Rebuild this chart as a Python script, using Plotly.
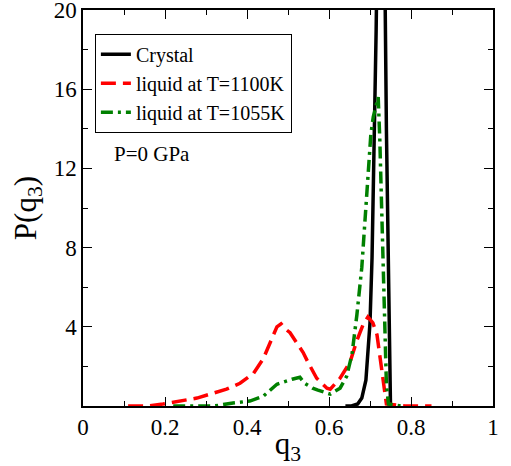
import plotly.graph_objects as go

# Crystal
q_crystal = [0.64, 0.655, 0.67, 0.68, 0.69, 0.70, 0.705, 0.71, 0.715, 0.72, 0.73, 0.74, 0.75, 0.76]
p_crystal = [0.0, 0.0, 0.1, 0.4, 1.3, 4.2, 7.5, 12.5, 19.0, 27.0, 35.0, 14.0, 0.0, 0.0]

# liquid at T=1100K
q_1100 = [0.11, 0.158, 0.195, 0.237, 0.278, 0.31, 0.35, 0.383, 0.416, 0.44, 0.46, 0.473, 0.483,
          0.493, 0.505, 0.513, 0.537, 0.549, 0.57, 0.595, 0.603, 0.627, 0.651, 0.668, 0.683,
          0.695, 0.707, 0.717, 0.725, 0.732, 0.74, 0.785, 0.85]
p_1100 = [0.0, 0.0, 0.1, 0.25, 0.4, 0.6, 0.85, 1.15, 1.65, 2.4, 3.4, 4.0, 4.15,
          3.9, 3.7, 3.45, 2.7, 2.2, 1.4, 0.9, 0.85, 1.4, 2.2, 3.3, 4.1,
          4.5, 4.2, 3.6, 2.3, 1.1, 0.1, 0.0, 0.0]

# liquid at T=1055K
q_1055 = [0.22, 0.30, 0.32, 0.366, 0.407, 0.44, 0.473, 0.51, 0.529, 0.54, 0.56, 0.573, 0.603,
          0.627, 0.643, 0.656, 0.668, 0.68, 0.692, 0.702, 0.708, 0.72, 0.724, 0.729, 0.734,
          0.74, 0.745, 0.775]
p_1055 = [0.0, 0.0, 0.0, 0.15, 0.25, 0.5, 1.1, 1.35, 1.45, 1.15, 0.9, 0.8, 0.6,
          0.9, 1.5, 2.6, 4.6, 7.0, 10.4, 13.7, 14.6, 15.6, 13.4, 9.5, 5.3,
          1.1, 0.1, 0.0]

x_ticks = [0, 0.2, 0.4, 0.6, 0.8, 1]
x_tick_labels = ["0", "0.2", "0.4", "0.6", "0.8", "1"]
y_ticks = [4, 8, 12, 16, 20]
y_tick_labels = ["4", "8", "12", "16", "20"]

FONT = "Liberation Serif, Times New Roman, serif"

fig = go.Figure()
fig.add_trace(go.Scatter(x=q_crystal, y=p_crystal, mode="lines", name="Crystal",
                         line=dict(color="black", width=3.5)))
fig.add_trace(go.Scatter(x=q_1100, y=p_1100, mode="lines", name="liquid at T=1100K",
                         line=dict(color="#ff0000", width=3.5, dash="15px,7px")))
fig.add_trace(go.Scatter(x=q_1055, y=p_1055, mode="lines", name="liquid at T=1055K",
                         line=dict(color="#008000", width=3.5, dash="12px,5px,3px,5px")))

fig.update_layout(
    width=511, height=466,
    margin=dict(l=83, r=18, t=10, b=60, autoexpand=False),
    paper_bgcolor="white", plot_bgcolor="white",
    font=dict(family=FONT, color="black", size=21),
    showlegend=True,
    legend=dict(x=0.029, y=0.94, xanchor="left", yanchor="top",
                bordercolor="black", borderwidth=1, bgcolor="white",
                font=dict(family=FONT, size=20), tracegroupgap=0,
                itemwidth=30),
    annotations=[dict(x=0.07, y=12.75, xref="x", yref="y", text="P=0 GPa",
                      showarrow=False, xanchor="left", yanchor="middle",
                      font=dict(family=FONT, size=21))],
)

fig.update_xaxes(range=[0, 1], tickvals=x_ticks, ticktext=x_tick_labels, automargin=False,
                 ticklabeloverflow="allow",
                 ticks="inside", ticklen=9, tickwidth=1, tickcolor="black",
                 minor=dict(dtick=0.1, ticks="inside", ticklen=5, tickcolor="black"),
                 showline=True, linecolor="black", linewidth=1.5, mirror="ticks",
                 showgrid=False, zeroline=False,
                 tickfont=dict(family=FONT, size=23),
                 title=dict(text="q<sub>3</sub>", font=dict(family=FONT, size=31), standoff=0))
fig.update_yaxes(range=[0, 20], tickvals=y_ticks, ticktext=y_tick_labels, automargin=False,
                 ticklabeloverflow="allow",
                 ticks="inside", ticklen=9, tickwidth=1, tickcolor="black",
                 minor=dict(dtick=2, ticks="inside", ticklen=5, tickcolor="black"),
                 showline=True, linecolor="black", linewidth=1.5, mirror="ticks",
                 showgrid=False, zeroline=False,
                 tickfont=dict(family=FONT, size=23),
                 title=dict(text="P(q<sub>3</sub>)", font=dict(family=FONT, size=31), standoff=8))

fig.write_html("out.html", config={"displayModeBar": False},
               post_script="document.body.style.margin='0';document.body.style.padding='0';")
